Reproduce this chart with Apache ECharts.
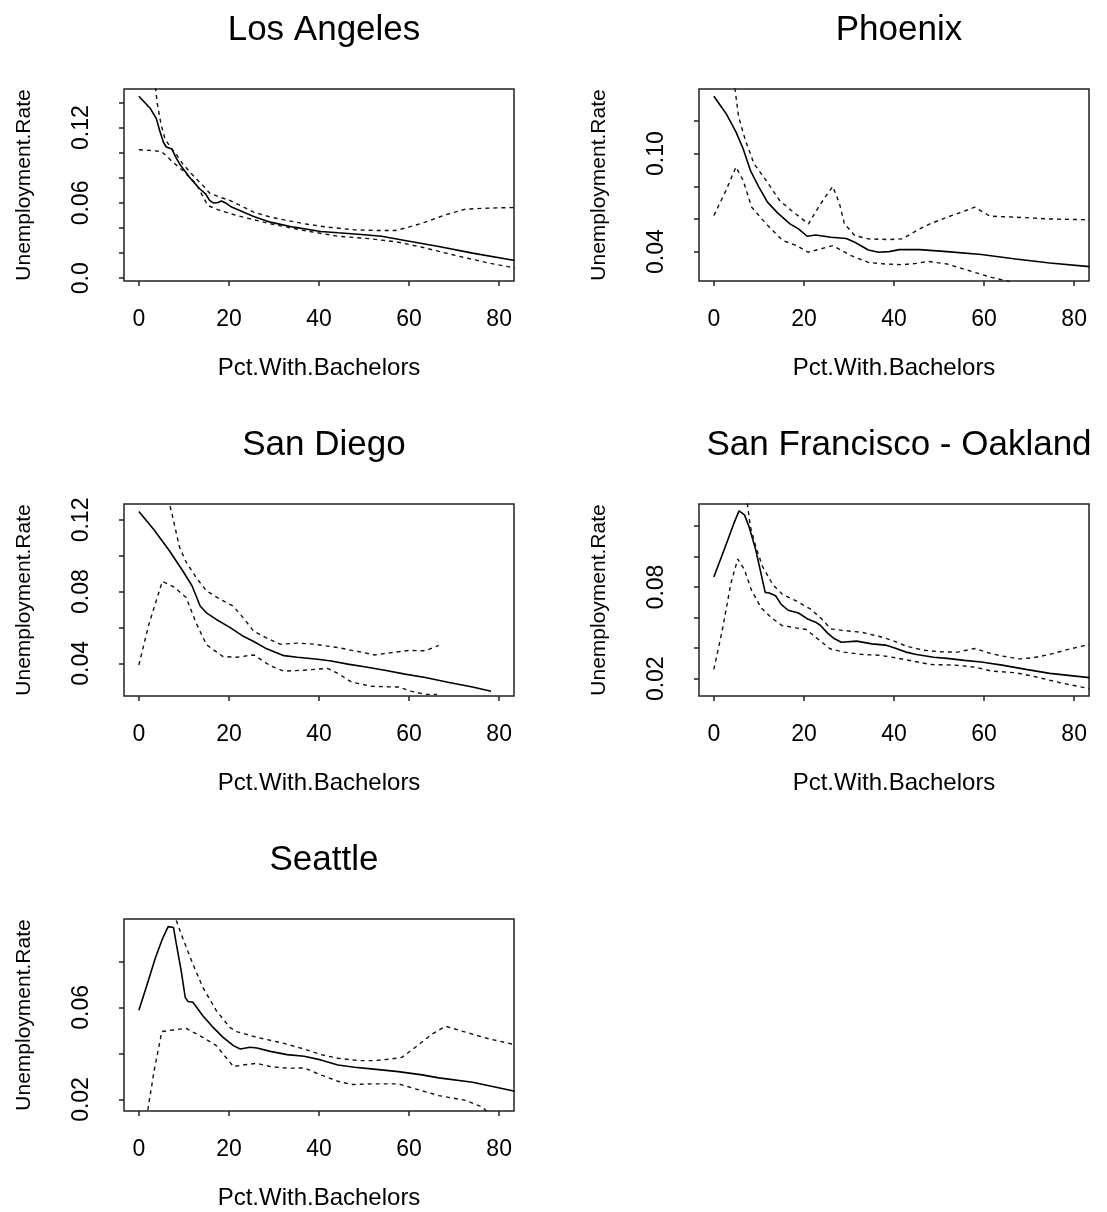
<!DOCTYPE html>
<html>
<head>
<meta charset="UTF-8">
<title>Unemployment rate vs pct with bachelors</title>
<script src="https://cdn.jsdelivr.net/npm/echarts@6/dist/echarts.min.js"></script>
<style>
  html, body { margin: 0; padding: 0; background: #fff; }
  #main { width: 1107px; height: 1212px; }
</style>
</head>
<body>
<div id="main"></div>
<script>
// ---- data: [pct with bachelors, unemployment rate] ----
var laFit = [[0,0.145],[2.6,0.135],[3.9,0.127],[4.6,0.118],[5.5,0.108],[6.1,0.1046],[7.3,0.103],[8.2,0.0966],[9,0.0913],[11.2,0.0806],[13.5,0.0713],[14.8,0.0673],[15.7,0.062],[16.6,0.0599],[17.6,0.0604],[18.3,0.0615],[19.3,0.0599],[20.6,0.0567],[25.5,0.0492],[29.2,0.0447],[34.4,0.0407],[40.4,0.0373],[44.2,0.0362],[49.4,0.0349],[53.9,0.0335],[59.1,0.0301],[66.6,0.0253],[74.1,0.02],[83.5,0.0141]];
var laUpper = [[3.3,0.165],[4.1,0.139],[4.9,0.123],[5.8,0.111],[7.1,0.104],[8.2,0.0993],[9.7,0.0913],[12,0.082],[14.2,0.074],[15.7,0.0679],[17.9,0.0647],[20.2,0.062],[25.5,0.0527],[29.2,0.0487],[36.7,0.0434],[41.9,0.0407],[47.9,0.0386],[53.1,0.038],[56.9,0.038],[59.9,0.0407],[63.6,0.0447],[68.1,0.0506],[72.6,0.0551],[77.8,0.0559],[83.5,0.0564]];
var laLower = [[0,0.1024],[2.2,0.1019],[4.9,0.1011],[6,0.0979],[7.5,0.0926],[9.7,0.086],[12.7,0.0753],[15.3,0.058],[18,0.054],[21.7,0.05],[29.2,0.0434],[36.7,0.038],[44.2,0.0335],[51.6,0.0314],[57.6,0.0287],[62.9,0.0247],[70.4,0.0181],[77.8,0.012],[83.5,0.0082]];

var phxFit = [[0,0.1352],[2.7,0.1246],[4.9,0.1133],[6.5,0.103],[8.1,0.0898],[10,0.0795],[11.9,0.0703],[14.2,0.0636],[16.9,0.057],[18.8,0.0539],[20.7,0.0494],[22.6,0.0502],[26,0.0488],[29.4,0.048],[31.3,0.0457],[34.3,0.041],[36.6,0.0396],[38.9,0.04],[41.2,0.0412],[45.7,0.0412],[51.8,0.04],[59.4,0.0382],[67,0.0355],[74.6,0.033],[83.4,0.0308]];
var phxUpper = [[4.2,0.15],[5.5,0.1225],[7,0.1082],[8.9,0.0939],[11.6,0.0836],[14.6,0.0713],[17.2,0.0652],[21,0.057],[23.7,0.0693],[26.4,0.0799],[27.9,0.0693],[29,0.057],[31.3,0.0498],[34.3,0.0478],[38.9,0.0474],[41.9,0.0478],[45,0.0529],[48,0.057],[51.8,0.0611],[55.6,0.0648],[57.9,0.0672],[61.3,0.0617],[67,0.0611],[74.6,0.06],[83.4,0.0595]];
var phxLower = [[0,0.0621],[2.7,0.0775],[4.9,0.0918],[6.5,0.0836],[8.4,0.0672],[11.6,0.057],[15.3,0.0468],[18.4,0.0437],[20.9,0.0396],[23.7,0.0416],[26.4,0.0437],[30.5,0.0375],[34.3,0.0334],[38.1,0.0324],[41.9,0.032],[45,0.0328],[47.6,0.034],[51.8,0.0324],[57.9,0.0273],[61.7,0.0242],[66.3,0.0212]];

var sdFit = [[0,0.1247],[3.4,0.1144],[6.7,0.1031],[9.7,0.0918],[11.8,0.0833],[12.7,0.0777],[13.6,0.072],[15,0.0682],[17.2,0.0645],[20.2,0.0601],[23.2,0.0551],[25.5,0.0522],[28.4,0.0481],[32.2,0.0443],[35.2,0.0434],[39.7,0.0423],[42.7,0.0413],[46.4,0.0396],[50.1,0.0381],[54.6,0.0362],[59.1,0.034],[63.6,0.0321],[68.9,0.0293],[74.1,0.0268],[78.2,0.0244]];
var sdUpper = [[6.5,0.132],[7.5,0.1219],[9,0.105],[10.5,0.0965],[12.7,0.088],[15,0.0805],[18,0.0758],[20.9,0.072],[23.2,0.0654],[25.5,0.0579],[28.4,0.0541],[31.4,0.0507],[35.2,0.0513],[38.9,0.0507],[44.2,0.0488],[48.7,0.0466],[52.4,0.0447],[56.1,0.046],[59.9,0.0472],[63.6,0.047],[66.6,0.05]];
var sdLower = [[0,0.0391],[2.2,0.0616],[5.2,0.0857],[7.9,0.0824],[10.5,0.0767],[12.7,0.0626],[15,0.0504],[18.7,0.0438],[21.7,0.0434],[25.5,0.0447],[29.2,0.0387],[32.2,0.0357],[36.7,0.0362],[41.9,0.0372],[44.2,0.0344],[47.2,0.0296],[51.6,0.0272],[57.6,0.0268],[60.6,0.0244],[63.6,0.0227],[66.2,0.0227]];

var sfFit = [[0,0.0865],[2.7,0.1076],[4.6,0.1228],[5.6,0.1298],[6.8,0.1272],[7.8,0.1196],[9.3,0.1043],[11.4,0.0765],[12.3,0.0761],[13.7,0.0743],[15,0.0685],[16.5,0.0648],[18.8,0.063],[20.7,0.0593],[22.6,0.057],[23.7,0.0548],[25.2,0.05],[26.7,0.0463],[28.3,0.0439],[31.7,0.0446],[35.1,0.0428],[38.1,0.042],[40,0.0402],[42.7,0.0374],[45,0.0359],[48.8,0.0341],[51.8,0.0333],[55.6,0.032],[59.4,0.0309],[64,0.0289],[69.3,0.0261],[74.6,0.0235],[83.4,0.0207]];
var sfUpper = [[7.2,0.14],[8.1,0.1196],[9.3,0.1065],[10.8,0.0935],[13.1,0.0815],[15.3,0.075],[18.4,0.0707],[21.4,0.0657],[23.7,0.0598],[26,0.0526],[29,0.0515],[32.8,0.0504],[36.6,0.0478],[39.7,0.045],[42.7,0.0413],[46.5,0.0387],[50.3,0.0376],[54.1,0.0374],[57.9,0.0398],[60.9,0.037],[64,0.0348],[67.8,0.033],[70.8,0.0337],[74.6,0.0359],[79.2,0.0396],[83.4,0.0424]];
var sfLower = [[0,0.0261],[1.9,0.0522],[3.8,0.0826],[5.3,0.0983],[6.8,0.0913],[8.3,0.0783],[10.5,0.0663],[12.8,0.0598],[15.1,0.0548],[18.2,0.0533],[20.5,0.0522],[22.8,0.0467],[25.8,0.0396],[28.9,0.0374],[32.7,0.0359],[36.6,0.0354],[40.4,0.0337],[44.2,0.0315],[48.1,0.0293],[53.4,0.0289],[57.9,0.0276],[61.7,0.025],[67,0.0239],[70.8,0.0217],[76.9,0.0174],[83.4,0.0135]];

var seaFit = [[0,0.0588],[1.5,0.0679],[3.7,0.0817],[5.2,0.0896],[6.5,0.0951],[7.7,0.0947],[8.2,0.0889],[9.4,0.0759],[10.3,0.0643],[10.9,0.0626],[12,0.0622],[14.2,0.0564],[16.5,0.0513],[18.7,0.047],[21,0.0434],[22.5,0.0419],[24.7,0.0427],[26.2,0.0424],[29.2,0.0409],[32.9,0.0395],[36.7,0.0388],[40.4,0.0372],[44.2,0.035],[47.9,0.034],[51.6,0.0333],[57.6,0.0321],[62.9,0.0307],[66.6,0.0294],[74.1,0.0275],[83.5,0.0236]];
var seaUpper = [[7.7,0.101],[9.7,0.0903],[12,0.0788],[14.2,0.0687],[17.2,0.0586],[20.2,0.0513],[21.7,0.0495],[26.2,0.047],[32.2,0.0444],[36.7,0.0419],[40.4,0.0395],[44.2,0.0379],[48.7,0.0369],[52.4,0.0369],[56.1,0.0376],[58.4,0.0383],[61.4,0.0427],[65.1,0.0484],[68.1,0.0518],[72.6,0.0492],[77.8,0.0463],[83.5,0.0438]];
var seaLower = [[1.7,0.012],[3.4,0.0326],[5.1,0.0495],[7.5,0.0502],[10.5,0.0509],[14.2,0.047],[17.2,0.0434],[21,0.0343],[23.9,0.0352],[26.2,0.0357],[29.2,0.0343],[32.9,0.0336],[36.7,0.0337],[40.4,0.0307],[44.2,0.0279],[47.2,0.0265],[51.6,0.0268],[57.6,0.0268],[61.4,0.0246],[66.6,0.0217],[72.6,0.0196],[76.3,0.0167],[78.2,0.013]];

// axis ticks and labels
var xTicks = [0, 20, 40, 60, 80];
var laYTicks = [0, 0.02, 0.04, 0.06, 0.08, 0.10, 0.12, 0.14];
var laYLabels = [[0, '0.0'], [0.06, '0.06'], [0.12, '0.12']];
var phxYTicks = [0.04, 0.06, 0.08, 0.10, 0.12];
var phxYLabels = [[0.04, '0.04'], [0.10, '0.10']];
var sdYTicks = [0.04, 0.06, 0.08, 0.10, 0.12];
var sdYLabels = [[0.04, '0.04'], [0.08, '0.08'], [0.12, '0.12']];
var sfYTicks = [0.02, 0.04, 0.06, 0.08, 0.10, 0.12];
var sfYLabels = [[0.02, '0.02'], [0.08, '0.08']];
var seaYTicks = [0.02, 0.04, 0.06, 0.08];
var seaYLabels = [[0.02, '0.02'], [0.06, '0.06']];

var panels = [
  {name: 'Los Angeles', left: 124, top: 89, fit: laFit, upper: laUpper, lower: laLower, ymin: -0.0022, ymax: 0.1508, yTicks: laYTicks, yLabels: laYLabels},
  {name: 'Phoenix', left: 699, top: 89, fit: phxFit, upper: phxUpper, lower: phxLower, ymin: 0.022, ymax: 0.1396, yTicks: phxYTicks, yLabels: phxYLabels},
  {name: 'San Diego', left: 124, top: 504, fit: sdFit, upper: sdUpper, lower: sdLower, ymin: 0.0218, ymax: 0.1289, yTicks: sdYTicks, yLabels: sdYLabels},
  {name: 'San Francisco - Oakland', left: 699, top: 504, fit: sfFit, upper: sfUpper, lower: sfLower, ymin: 0.0087, ymax: 0.1343, yTicks: sfYTicks, yLabels: sfYLabels},
  {name: 'Seattle', left: 124, top: 919, fit: seaFit, upper: seaUpper, lower: seaLower, ymin: 0.015, ymax: 0.0984, yTicks: seaYTicks, yLabels: seaYLabels}
];

var boxW = 390, boxH = 192;
var font = 'Liberation Sans, Arial, Helvetica, sans-serif';

var myChart = echarts.init(document.getElementById('main'));
var option = {
  animation: false,
  backgroundColor: '#fff',
  title: [], grid: [], xAxis: [], yAxis: [], series: []
};

panels.forEach(function (p, i) {
  option.title.push({
    text: p.name,
    left: p.left + boxW / 2,
    top: p.top - 81,
    textAlign: 'center',
    textStyle: {fontFamily: font, fontSize: 35, fontWeight: 'normal', color: '#000'}
  });
  option.grid.push({
    left: p.left, top: p.top, width: boxW, height: boxH,
    show: true, borderColor: '#222', borderWidth: 1.5, backgroundColor: 'transparent'
  });
  option.xAxis.push({
    type: 'value', gridIndex: i, min: -3.3, max: 83.3,
    name: 'Pct.With.Bachelors', nameLocation: 'middle', nameGap: 75,
    nameTextStyle: {fontFamily: font, fontSize: 24, color: '#000'},
    axisLine: {show: false, onZero: false},
    splitLine: {show: false},
    axisTick: {show: true, inside: false, length: 5, customValues: xTicks, lineStyle: {color: '#222', width: 1.5}},
    axisLabel: {customValues: xTicks, margin: 27, fontFamily: font, fontSize: 23, color: '#000'}
  });
  var labelVals = p.yLabels.map(function (l) { return l[0]; });
  option.yAxis.push({
    type: 'value', gridIndex: i, min: p.ymin, max: p.ymax,
    name: 'Unemployment.Rate', nameLocation: 'middle', nameGap: 89,
    nameTextStyle: {fontFamily: font, fontSize: 21, color: '#000'},
    axisLine: {show: false, onZero: false},
    splitLine: {show: false},
    axisTick: {show: true, inside: false, length: 5, customValues: p.yTicks, lineStyle: {color: '#222', width: 1.5}},
    axisLabel: {
      customValues: labelVals, rotate: 90, margin: 31,
      fontFamily: font, fontSize: 23, color: '#000',
      formatter: function (v) {
        for (var k = 0; k < p.yLabels.length; k++) {
          if (Math.abs(p.yLabels[k][0] - v) < 1e-9) return p.yLabels[k][1];
        }
        return '';
      }
    }
  });
  var base = {type: 'line', xAxisIndex: i, yAxisIndex: i, showSymbol: false, symbol: 'none', clip: true, silent: true};
  option.series.push(Object.assign({}, base, {name: p.name + ' fit', data: p.fit,
    lineStyle: {color: '#000', width: 1.6, type: 'solid'}}));
  option.series.push(Object.assign({}, base, {name: p.name + ' upper', data: p.upper,
    lineStyle: {color: '#111', width: 1.4, type: [4, 4]}}));
  option.series.push(Object.assign({}, base, {name: p.name + ' lower', data: p.lower,
    lineStyle: {color: '#111', width: 1.4, type: [4, 4]}}));
});

myChart.setOption(option);
</script>
</body>
</html>
